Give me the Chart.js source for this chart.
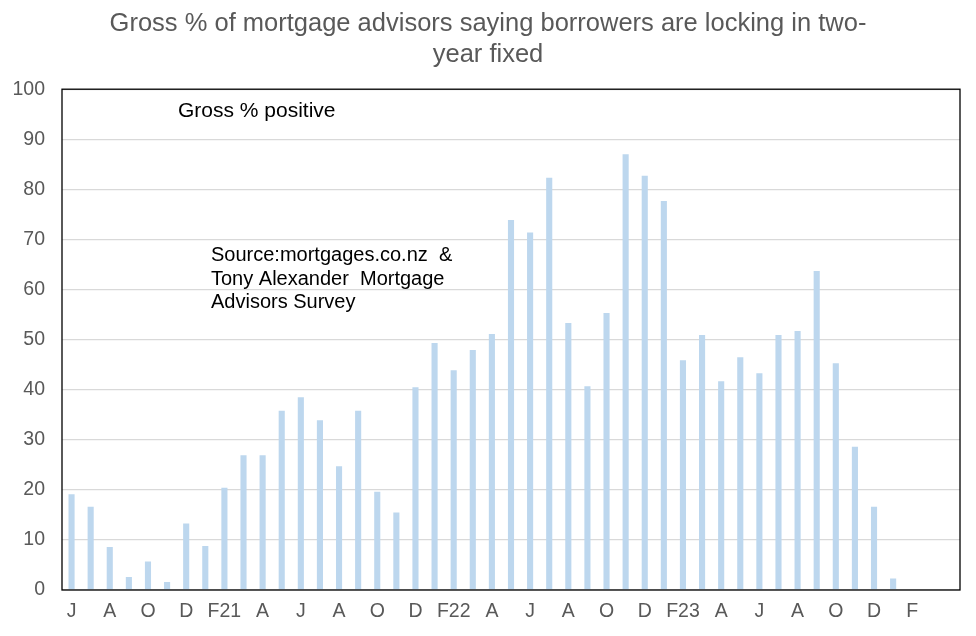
<!DOCTYPE html>
<html>
<head>
<meta charset="utf-8">
<script src="https://cdn.jsdelivr.net/npm/chart.js@4/dist/chart.umd.min.js"></script>
<style>
    html, body { margin: 0; padding: 0; background: #fff; }
    #wrap { width: 976px; height: 636px; }
</style>
</head>
<body>
<div id="wrap"><canvas id="lockChart" width="976" height="636"></canvas></div>
<script>
// Monthly survey, Jun 2020 to Apr 2024 (labels only every second month)
const monthLabels = [
    'J', '', 'A', '', 'O', '', 'D', '', 'F21', '', 'A', '',
    'J', '', 'A', '', 'O', '', 'D', '', 'F22', '', 'A', '',
    'J', '', 'A', '', 'O', '', 'D', '', 'F23', '', 'A', '',
    'J', '', 'A', '', 'O', '', 'D', '', 'F', '', ''
];

// Gross % positive
const grossPositive = [
    19.1, 16.6, 8.6, 2.6, 5.7, 1.6, 13.3, 8.8, 20.4, 26.9, 26.9, 35.8,
    38.5, 33.9, 24.7, 35.8, 19.6, 15.5, 40.5, 49.3, 43.9, 47.9, 51.1, 73.9,
    71.4, 82.3, 53.3, 40.7, 55.3, 87.0, 82.7, 77.7, 45.9, 50.9, 41.7, 46.5,
    43.3, 50.9, 51.7, 63.7, 45.3, 28.6, 16.6, 2.3, null, null, null
];

const yTicks = [0, 10, 20, 30, 40, 50, 60, 70, 80, 90, 100];

const FONT = 'Arial, "Liberation Sans", sans-serif';
const GREY = '#595959';

// black frame round the plot + the two text boxes
const framePlugin = {
    id: 'frame',
    afterDatasetsDraw(chart) {
        const { ctx, chartArea: a } = chart;
        ctx.save();
        ctx.strokeStyle = '#000';
        ctx.lineWidth = 1.3;
        ctx.strokeRect(a.left, a.top, a.right - a.left, a.bottom - a.top);

        ctx.fillStyle = '#000';
        ctx.textBaseline = 'middle';
        ctx.textAlign = 'left';
        ctx.font = '21px ' + FONT;
        ctx.fillText('Gross % positive', a.left + 116, a.top + 22);
        ctx.font = '20px ' + FONT;
        ctx.fillText('Source:mortgages.co.nz  &', a.left + 149, a.top + 166);
        ctx.fillText('Tony Alexander  Mortgage', a.left + 149, a.top + 190);
        ctx.fillText('Advisors Survey', a.left + 149, a.top + 213);
        ctx.restore();
    }
};

new Chart(document.getElementById('lockChart'), {
    type: 'bar',
    data: {
        labels: monthLabels,
        datasets: [{
            label: 'Gross % positive',
            data: grossPositive,
            backgroundColor: '#BDD7EE',
            borderWidth: 0,
            categoryPercentage: 1.0,
            barPercentage: 0.32
        }]
    },
    options: {
        responsive: false,
        animation: false,
        layout: { padding: 0 },
        plugins: {
            legend: { display: false },
            tooltip: { enabled: false },
            title: {
                display: true,
                text: ['Gross % of mortgage advisors saying borrowers are locking in two-', 'year fixed'],
                color: GREY,
                font: { family: FONT, size: 25.5, weight: 'normal', lineHeight: 1.2 },
                padding: { top: 9, bottom: 19 }
            }
        },
        scales: {
            x: {
                grid: { display: false, drawTicks: false },
                border: { display: false },
                ticks: {
                    color: GREY,
                    font: { family: FONT, size: 19.5 },
                    autoSkip: false,
                    maxRotation: 0,
                    padding: 10
                },
                afterFit(scale) { scale.height = 46; }
            },
            y: {
                min: 0,
                max: 100,
                afterBuildTicks(scale) { scale.ticks = yTicks.map(v => ({ value: v })); },
                grid: { color: '#D9D9D9', lineWidth: 1.3, drawTicks: false },
                border: { display: false },
                ticks: {
                    color: GREY,
                    font: { family: FONT, size: 19.5 },
                    padding: 17
                },
                afterFit(scale) { scale.width = 62; }
            },
            // empty right-hand strip so the title centres on the whole canvas
            yRight: {
                position: 'right',
                min: 0,
                max: 100,
                grid: { display: false, drawTicks: false },
                border: { display: false },
                ticks: { display: false },
                afterFit(scale) { scale.width = 16; }
            }
        }
    },
    plugins: [framePlugin]
});
</script>
</body>
</html>
